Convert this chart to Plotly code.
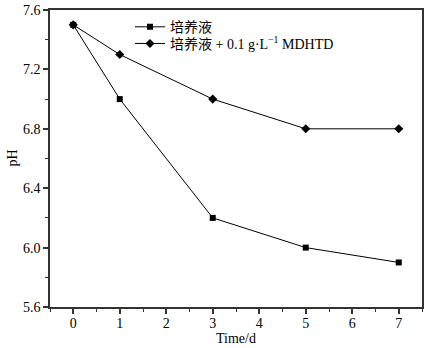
import plotly.graph_objects as go

days = [0, 1, 3, 5, 7]
ph_medium = [7.5, 7.0, 6.2, 6.0, 5.9]
ph_mdhtd = [7.5, 7.3, 7.0, 6.8, 6.8]
names = ["培养液", "培养液 + 0.1 g·L<sup>−1</sup> MDHTD"]

font_fam = "Liberation Serif, Times New Roman, Noto Sans CJK SC, serif"

fig = go.Figure()
fig.add_trace(go.Scatter(x=days, y=ph_medium, mode="lines+markers", name=names[0],
                         line=dict(color="black", width=1), legend="legend",
                         marker=dict(symbol="square", size=6, color="black")))
fig.add_trace(go.Scatter(x=days, y=ph_mdhtd, mode="lines+markers", name=names[1],
                         line=dict(color="black", width=1), legend="legend2",
                         marker=dict(symbol="diamond", size=7, color="black")))

axis_common = dict(showline=True, linecolor="#333", linewidth=1.5, mirror=True,
                   ticks="outside", ticklen=5, tickwidth=1.5, tickcolor="#333",
                   showgrid=False, zeroline=False, automargin=False,
                   tickfont=dict(family=font_fam, size=14, color="black"))

fig.update_xaxes(range=[-0.5, 7.5], tickvals=[0, 1, 2, 3, 4, 5, 6, 7],
                 ticklabelstandoff=-3,
                 minor=dict(tickvals=[-0.5, 0.5, 1.5, 2.5, 3.5, 4.5, 5.5, 6.5, 7.5], ticklen=3, tickwidth=1, tickcolor="#333", ticks="outside"),
                 **axis_common)
fig.update_yaxes(range=[5.6, 7.6], tickvals=[5.6, 6.0, 6.4, 6.8, 7.2, 7.6],
                 ticktext=["5.6", "6.0", "6.4", "6.8", "7.2", "7.6"],
                 minor=dict(tickvals=[5.8, 6.2, 6.6, 7.0, 7.4], ticklen=3, tickwidth=1, tickcolor="#333", ticks="outside"),
                 **axis_common)

fig.add_annotation(text="Time/d", xref="paper", yref="paper", x=0.5, y=0, yshift=-31,
                   xanchor="center", yanchor="middle", showarrow=False,
                   font=dict(family=font_fam, size=14, color="black"))
fig.add_annotation(text="pH", xref="paper", yref="paper", x=0, y=0.5, xshift=-38,
                   xanchor="center", yanchor="middle", textangle=-90, showarrow=False,
                   font=dict(family=font_fam, size=14, color="black"))

leg_common = dict(xanchor="left", yanchor="middle", bgcolor="rgba(0,0,0,0)",
                  font=dict(family=font_fam, size=14, color="black"), itemwidth=30)

fig.update_layout(width=425, height=348, margin=dict(l=50, r=3, t=10, b=41),
                  plot_bgcolor="white", paper_bgcolor="white",
                  legend=dict(x=0.215, y=0.942, **leg_common),
                  legend2=dict(x=0.215, y=0.886, **leg_common),
                  showlegend=True)

fig.write_html("out.html", config={"displayModeBar": False},
               post_script="document.body.style.margin='0';")
